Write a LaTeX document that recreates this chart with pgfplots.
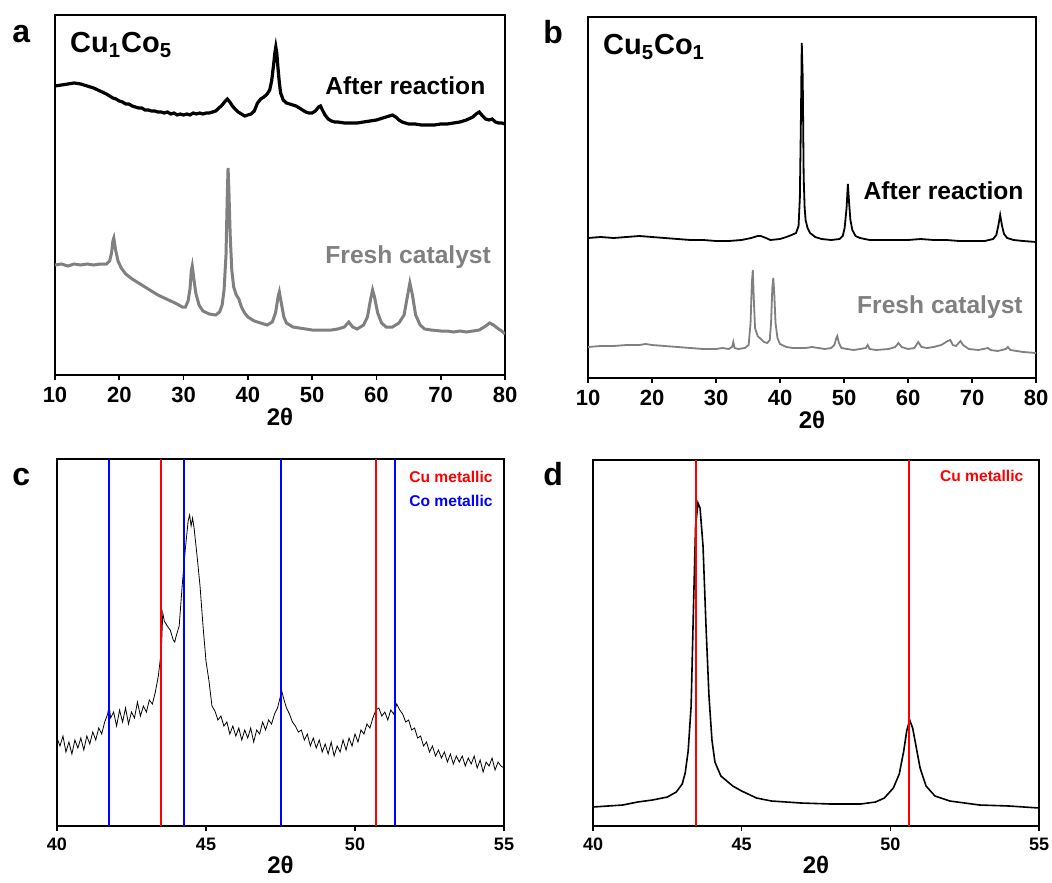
\documentclass[border=0pt]{standalone}
\usepackage{fontspec}
\setmainfont{Liberation Sans}
\usepackage{pgfplots}
\pgfplotsset{compat=1.18}

\definecolor{fresh}{HTML}{808080}
\definecolor{cuRed}{HTML}{FF0000}
\definecolor{coBlue}{HTML}{0000FF}

\pgfplotsset{
  xrd/.style={
    scale only axis, anchor=south west,
    axis line style={line width=0.8pt},
    ytick=\empty, xtick pos=left, tick align=outside,
    major tick length=2.5pt, tick style={line width=0.8pt,black},
    /pgf/number format/assume math mode=true,
    xlabel={2θ},
    xlabel style={font=\bfseries\fontsize{12}{12}\selectfont, yshift=4pt},
    ymin=0,
  },
  wide/.style={xmin=10,xmax=80,xtick={10,20,...,80},
    xticklabel style={font=\bfseries\fontsize{11}{11}\selectfont}},
  zoomed/.style={xmin=40,xmax=55,xtick={40,45,50,55},
    xticklabel style={font=\bfseries\fontsize{9}{9}\selectfont}},
}

\begin{document}
\begin{tikzpicture}
\useasboundingbox (0,0) rectangle (526pt,-441pt);

% ---- panel a ----
\begin{axis}[xrd, wide, at={(27.5pt,-187.5pt)}, width=225pt, height=180pt, ymax=360]
\addplot[black, line width=1.6pt] coordinates {
(10,289)(11,290)(12,291)(13,292)(14,291)(15,289)
(16,287)(17,284)(18,281)(18.5,279)(19,277)(19.5,276)
(20,274)(20.5,273)(21,271)(21.5,271)(22,269)(22.5,268)(23,267)(23.5,267)(24,265)(24.5,265)
(25,264)(25.5,264)(26,263)(26.5,263)(27,262)(27.5,263)(28,261)(28.5,262)(29,260)(29.5,261)
(30,260)(30.5,261)(31,260)(31.5,262)(32,261)(32.5,262)(33,261)(33.5,262)(34,262)(34.5,263)
(35,264)(35.5,267)(36,270)(36.5,274)(36.8,276)(37.2,273)(37.6,269)(38,266)(38.5,263)(39,261)
(39.5,259)(40,260)(40.5,261)(41,264)(41.5,272)(42,276)(42.5,278)(43,281)(43.4,285)(43.7,294)
(44,310)(44.2,322)(44.35,328)(44.5,322)(44.7,306)(44.9,292)(45.1,282)(45.5,275)(46,272)(46.5,271)
(47,270)(47.5,269)(48,267)(48.5,265)(49,263)(49.5,262)(50,262)(50.5,264)(51,268)(51.3,269)
(51.6,265)(52,260)(52.5,256)(53,254)(53.5,253)(54,253)(55,252)(56,252)(57,252)(58,253)
(59,254)(60,255)(61,257)(62,259)(62.5,260)(63,258)(63.5,255)(64,253)(65,251)(66,251)
(67,250)(68,250)(69,250)(70,251)(71,251)(72,252)(73,253)(74,255)(75,258)(75.5,261)
(76,263)(76.5,259)(77,256)(77.5,255)(78,256)(78.5,253)(79,252)(79.5,252)(80,251)};
\addplot[fresh, line width=1.5pt] coordinates {
(10,110)(11,111)(12,109)(13,111)(14,110)(15,111)(16,110)(17,111)(18,111)(18.5,114)
(18.8,122)(19.0,134)(19.15,137)(19.4,126)(19.8,114)(20.3,107)(21,101)(22,96)(23,92)(24,88)
(25,84)(26,80)(27,77)(28,74)(29,71)(29.8,68)(30.3,68)(30.7,74)(31.0,86)(31.2,104)
(31.35,109)(31.6,96)(31.9,82)(32.4,70)(33,64)(34,61)(35,60)(35.6,63)(36,70)(36.3,85)
(36.6,120)(36.8,180)(36.92,207)(37.05,185)(37.25,140)(37.5,105)(37.8,88)(38.2,80)(38.6,76)(39,68)
(39.5,62)(40,58)(41,54)(42,52)(43,50)(43.8,53)(44.3,62)(44.7,78)(44.9,83)(45.2,72)
(45.6,58)(46,52)(47,48)(48,47)(49,46)(50,45)(51,45)(52,45)(53,45)(54,46)
(55,48)(55.7,53)(56.3,48)(57,46)(58,50)(58.6,58)(59.1,76)(59.4,85)(59.7,78)(60.2,62)
(60.8,52)(61.5,48)(62.5,48)(63.5,52)(64.3,60)(64.8,78)(65.2,92)(65.6,80)(66.1,60)(66.8,50)
(67.5,46)(68.5,45)(70,44)(71,44)(72,43)(73,44)(74,43)(75,44)(76,45)(77,49)
(77.6,52)(78.2,50)(79,46)(79.5,44)(80,41)};
\node[anchor=base west, inner sep=0pt, font=\bfseries\fontsize{14.5}{14}\selectfont] at (axis cs:12.3,322) {Cu\textsubscript{1}Co\textsubscript{5}};
\node[anchor=base west, font=\bfseries\fontsize{12.3}{12}\selectfont, inner sep=0pt] at (axis cs:52.0,280) {After reaction};
\node[anchor=base west, font=\bfseries\fontsize{12.3}{12}\selectfont, text=fresh, inner sep=0pt] at (axis cs:52.0,112) {Fresh catalyst};
\end{axis}

% ---- panel b ----
\begin{axis}[xrd, wide, at={(294pt,-189pt)}, width=224pt, height=180.5pt, ymax=361]
\addplot[black, line width=0.9pt] coordinates {
(10,140)(12,141)(14,140)(16,141)(18,142)(20,141)(22,140)(24,139)(26,138)(28,138)
(30,137)(32,137)(34,138)(35.5,140)(36.5,142)(37,142)(37.8,140)(38.5,138)(40,139)(41,141)
(41.8,143)(42.5,145)(42.9,152)(43.1,180)(43.25,250)(43.4,335)(43.55,300)(43.7,200)(43.85,170)(44.0,158)
(44.3,150)(44.7,145)(45.5,141)(46.5,139)(48,138)(49.3,139)(49.8,142)(50.1,150)(50.4,170)(50.6,194)
(50.8,175)(51.0,158)(51.3,148)(51.8,142)(52.5,140)(54,138)(56,138)(58,138)(60,138)(62,139)
(64,138)(66,138)(68,137)(70,137)(72,137)(73.3,139)(73.8,143)(74.1,152)(74.4,163)(74.7,152)
(75.0,144)(75.5,140)(76.5,138)(78,137)(80,136)};
\addplot[fresh, line width=0.9pt] coordinates {
(10,31)(12,32)(14,32)(16,33)(18,33)(19,34)(20,33)(22,32)(24,31)(26,30)
(28,29)(30,29)(31,30)(32,29)(32.5,31)(32.7,36)(32.9,30)(33.5,29)(34.5,30)(35.1,33)
(35.4,55)(35.6,95)(35.75,108)(35.9,80)(36.1,50)(36.5,42)(37,39)(37.5,36)(38,35)(38.4,38)
(38.6,55)(38.8,90)(38.95,100)(39.1,85)(39.3,55)(39.6,40)(40,34)(41,31)(42,30)(43,30)
(44,30)(45,31)(46,30)(47,29)(48,30)(48.5,33)(48.8,40)(48.95,42)(49.2,35)(49.6,30)
(50.5,29)(51.5,28)(52.5,29)(53.4,30)(53.7,33)(54,29)(55,28)(57,29)(58,31)(58.5,35)
(59,31)(60,29)(61,30)(61.6,36)(62.1,31)(63,30)(64,31)(65.2,33)(66.2,37)(66.6,38)
(67,33)(67.5,32)(68.2,37)(68.6,33)(69.5,29)(71,28)(72.5,30)(72.9,28)(74,27)(75.3,29)
(75.6,31)(76,28)(77,27)(78,26)(80,25)};
\node[anchor=base west, inner sep=0pt, font=\bfseries\fontsize{14.5}{14}\selectfont] at (axis cs:12.3,323) {Cu\textsubscript{5}Co\textsubscript{1}};
\node[anchor=base west, font=\bfseries\fontsize{12.3}{12}\selectfont, inner sep=0pt] at (axis cs:53.0,179) {After reaction};
\node[anchor=base west, font=\bfseries\fontsize{12.3}{12}\selectfont, text=fresh, inner sep=0pt] at (axis cs:52.0,65) {Fresh catalyst};
\end{axis}

% ---- panel c ----
\begin{axis}[xrd, zoomed, at={(28.5pt,-413pt)}, width=223.5pt, height=183.5pt, ymax=367]
\addplot[black, line width=0.4pt] coordinates {
(40.0,88)(40.1,80)(40.2,90)(40.3,74)(40.4,84)(40.5,72)(40.6,86)(40.7,78)(40.8,88)(40.9,76)
(41.0,90)(41.1,82)(41.2,94)(41.3,86)(41.4,98)(41.5,92)(41.6,104)(41.7,112)(41.75,120)(41.8,108)
(41.9,114)(42.0,100)(42.1,116)(42.2,104)(42.3,118)(42.4,102)(42.5,114)(42.6,108)(42.7,124)(42.8,110)
(42.9,120)(43.0,114)(43.1,126)(43.2,122)(43.3,134)(43.4,150)(43.5,175)(43.55,213)(43.6,205)(43.7,200)
(43.8,196)(43.9,186)(43.95,184)(44.0,190)(44.1,200)(44.2,240)(44.3,275)(44.4,305)(44.45,311)(44.5,300)
(44.55,308)(44.6,298)(44.7,270)(44.8,240)(44.9,200)(45.0,165)(45.1,145)(45.2,120)(45.3,115)(45.4,106)
(45.5,110)(45.6,100)(45.7,104)(45.8,92)(45.9,100)(46.0,90)(46.1,98)(46.2,86)(46.3,96)(46.4,88)
(46.5,98)(46.6,84)(46.7,96)(46.8,92)(46.9,104)(47.0,96)(47.1,106)(47.2,102)(47.3,112)(47.4,118)
(47.5,130)(47.55,134)(47.6,128)(47.7,118)(47.8,112)(47.9,104)(48.0,100)(48.1,94)(48.2,96)(48.3,86)
(48.4,92)(48.5,80)(48.6,88)(48.7,78)(48.8,86)(48.9,74)(49.0,82)(49.1,72)(49.2,84)(49.3,70)
(49.4,80)(49.5,74)(49.6,86)(49.7,76)(49.8,88)(49.9,80)(50.0,92)(50.1,84)(50.2,96)(50.3,92)
(50.4,102)(50.5,98)(50.6,108)(50.7,116)(50.8,118)(50.9,110)(51.0,114)(51.1,106)(51.2,116)(51.3,112)
(51.4,122)(51.5,116)(51.6,112)(51.7,104)(51.8,106)(51.9,96)(52.0,98)(52.1,88)(52.2,90)(52.3,80)
(52.4,84)(52.5,74)(52.6,80)(52.7,70)(52.8,76)(52.9,68)(53.0,74)(53.1,64)(53.2,72)(53.3,62)
(53.4,70)(53.5,64)(53.6,70)(53.7,60)(53.8,68)(53.9,62)(54.0,70)(54.1,58)(54.2,66)(54.3,54)
(54.4,64)(54.5,60)(54.6,68)(54.7,56)(54.8,64)(54.9,60)(55.0,58)};
\addplot[coBlue, line width=1pt] coordinates {(41.75,0)(41.75,367)};
\addplot[cuRed, line width=1pt] coordinates {(43.49,0)(43.49,367)};
\addplot[coBlue, line width=1pt] coordinates {(44.25,0)(44.25,367)};
\addplot[coBlue, line width=1pt] coordinates {(47.52,0)(47.52,367)};
\addplot[cuRed, line width=1pt] coordinates {(50.69,0)(50.69,367)};
\addplot[coBlue, line width=1pt] coordinates {(51.34,0)(51.34,367)};
\node[anchor=base west, font=\bfseries\fontsize{7.8}{8}\selectfont, text=cuRed, inner sep=0pt] at (axis cs:51.81,344) {Cu metallic};
\node[anchor=base west, font=\bfseries\fontsize{7.8}{8}\selectfont, text=coBlue, inner sep=0pt] at (axis cs:51.81,320) {Co metallic};
\end{axis}

% ---- panel d ----
\begin{axis}[xrd, zoomed, at={(296.5pt,-413pt)}, width=223pt, height=183pt, ymax=366]
\addplot[black, line width=0.8pt] coordinates {
(40,19)(40.5,20)(41,21)(41.5,24)(42,26)(42.5,29)(42.8,34)(43.0,42)(43.1,53)(43.2,75)
(43.3,120)(43.38,220)(43.45,300)(43.53,323)(43.6,318)(43.7,280)(43.8,200)(43.9,130)(44.0,86)(44.1,64)
(44.3,50)(44.5,45)(44.7,40)(45,35)(45.5,28)(46,25)(46.5,24)(47,23)(48,22)(49,22)
(49.5,24)(49.8,28)(50.1,38)(50.3,52)(50.45,75)(50.55,95)(50.65,106)(50.75,98)(50.85,82)(51.0,58)
(51.2,40)(51.5,30)(52,25)(52.5,23)(53,21)(54,20)(54.5,19)(55,18)};
\addplot[cuRed, line width=1pt] coordinates {(43.46,0)(43.46,366)};
\addplot[cuRed, line width=1pt] coordinates {(50.63,0)(50.63,366)};
\node[anchor=base west, font=\bfseries\fontsize{7.8}{8}\selectfont, text=cuRed, inner sep=0pt] at (axis cs:51.66,345) {Cu metallic};
\end{axis}

% panel letters
\node[anchor=base west, inner sep=0pt, font=\bfseries\fontsize{16}{16}\selectfont] at (6pt,-21.5pt) {a};
\node[anchor=base west, inner sep=0pt, font=\bfseries\fontsize{16}{16}\selectfont] at (271.5pt,-22pt) {b};
\node[anchor=base west, inner sep=0pt, font=\bfseries\fontsize{16}{16}\selectfont] at (6pt,-242.5pt) {c};
\node[anchor=base west, inner sep=0pt, font=\bfseries\fontsize{16}{16}\selectfont] at (271.5pt,-242.5pt) {d};
\end{tikzpicture}
\end{document}
